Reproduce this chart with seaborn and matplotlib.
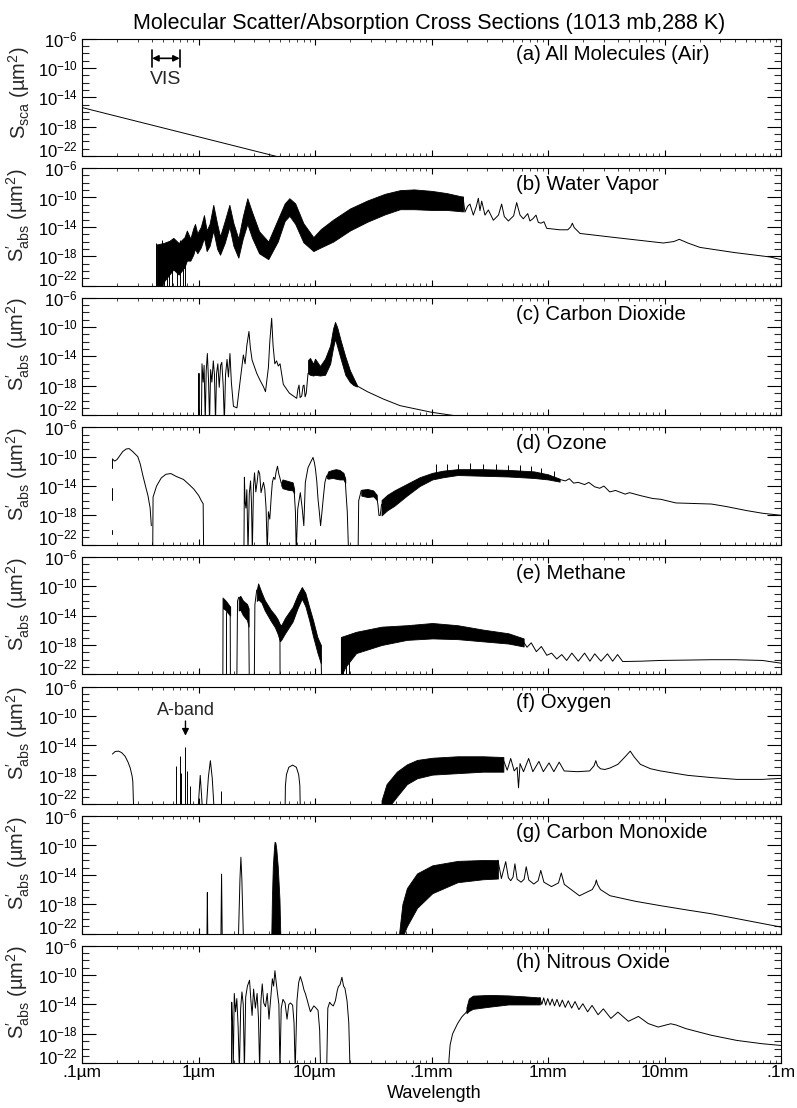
import numpy as np
import pandas as pd
import matplotlib
matplotlib.use("Agg")
import matplotlib.pyplot as plt
import matplotlib.ticker as mticker
import matplotlib.transforms as mtransforms
import seaborn as sns

N = None  # segment break

# ---------------- axes / labels ----------------
xtick_values = [1e-1, 1e0, 1e1, 1e2, 1e3, 1e4, 1e5]
xtick_labels = [".1µm", "1µm", "10µm", ".1mm", "1mm", "10mm", ".1m"]
ytick_exponents = [-22, -18, -14, -10, -6]
panel_names = ["(a) All Molecules (Air)", "(b) Water Vapor", "(c) Carbon Dioxide",
               "(d) Ozone", "(e) Methane", "(f) Oxygen", "(g) Carbon Monoxide",
               "(h) Nitrous Oxide"]
vis_range_um = [0.40, 0.69]
a_band_um = 0.773

# ---------------- data: (log10 wavelength[µm], log10 S[µm^2]) ----------------
# lines: (logwl, logS) ; bands: (logwl, logS_hi, logS_lo) ; spikes: (logwl, logS_base, logS_tip)
air_line = [(-1.0, -15.4), (0.63, -21.9), (1.0, -23.4)]

h2o_spikes = [(-0.365, -23, -16.2), (-0.345, -23, -16.9), (-0.316, -23, -15.8), (-0.296, -23, -16.8),
              (-0.273, -23, -16.0), (-0.250, -23, -16.6), (-0.230, -23, -15.6), (-0.187, -23, -16.4),
              (-0.159, -23, -15.8), (-0.136, -23, -16.2), (-0.116, -23, -15.3)]
h2o_band = [(-0.36, -16.4, -23), (-0.30, -16.2, -21.5), (-0.25, -15.9, -20.5), (-0.216, -15.5, -19.8),
            (-0.17, -16.2, -20.5), (-0.12, -15.4, -19.5), (-0.10, -14.5, -18.6), (-0.07, -15.6, -18.6),
            (-0.045, -14.2, -17.8), (-0.030, -13.6, -17.0), (-0.01, -14.9, -17.6), (0.02, -14.0, -16.8),
            (0.047, -12.4, -15.5), (0.07, -14.5, -17.3), (0.095, -13.6, -16.6), (0.127, -11.0, -14.5),
            (0.16, -13.6, -17.0), (0.185, -15.3, -17.8), (0.225, -13.2, -16.2), (0.265, -11.0, -14.0),
            (0.30, -13.5, -16.6), (0.342, -15.6, -18.2), (0.38, -12.6, -15.6), (0.419, -10.1, -13.6),
            (0.46, -12.0, -15.5), (0.52, -14.6, -17.6), (0.599, -16.0, -18.4), (0.68, -13.0, -16.0),
            (0.74, -10.8, -13.2), (0.780, -10.1, -12.5), (0.83, -10.8, -13.6), (0.90, -13.5, -16.1),
            (0.986, -15.4, -17.3), (1.05, -14.3, -16.8), (1.157, -13.0, -16.0), (1.30, -11.5, -14.5),
            (1.45, -10.4, -13.3), (1.60, -9.5, -12.3), (1.73, -9.0, -11.6), (1.85, -8.9, -11.6),
            (2.00, -9.1, -11.7), (2.13, -9.4, -11.7), (2.27, -9.9, -11.9)]
h2o_line = [(2.27, -9.9), (2.287, -12.0), (2.31, -11.2), (2.33, -10.9), (2.359, -12.4), (2.385, -11.2),
            (2.402, -10.1), (2.416, -11.8), (2.431, -10.5), (2.459, -12.4), (2.488, -11.7), (2.531, -13.1),
            (2.575, -12.4), (2.602, -10.9), (2.625, -12.6), (2.660, -13.2), (2.705, -12.5), (2.731, -10.7),
            (2.76, -12.4), (2.788, -12.9), (2.826, -12.2), (2.845, -13.2), (2.870, -12.9), (2.897, -12.4),
            (2.917, -13.4), (2.940, -13.5), (2.965, -13.3), (2.989, -14.2), (3.10, -14.4), (3.17, -14.4),
            (3.195, -14.0), (3.209, -13.5), (3.225, -14.1), (3.275, -14.9), (3.6, -15.5), (3.99, -16.2),
            (4.08, -16.0), (4.127, -15.7), (4.2, -16.2), (4.305, -16.8), (4.6, -17.5), (4.906, -18.1),
            (5.01, -18.5)]

co2_line = [(0.000, -23), (0.004, -16.3), (0.008, -23), N,
            (0.025, -23), (0.030, -15.0), (0.040, -17.5), (0.048, -15.2), (0.058, -23), (0.066, -16.0),
            (0.076, -13.6), (0.086, -17.2), (0.095, -23), (0.104, -15.8), (0.115, -17.5), (0.127, -14.6),
            (0.137, -16.5), (0.146, -23), (0.155, -16.3), (0.166, -15.0), (0.178, -18.2), (0.190, -15.2),
            (0.200, -14.8), (0.212, -18.0), (0.222, -23), (0.232, -16.5), (0.245, -14.4), (0.257, -16.8),
            (0.270, -13.6), (0.282, -17.5), (0.300, -20.8), (0.33, -21.0), (0.36, -17.0), (0.385, -13.8),
            (0.40, -15.0), (0.415, -12.5), (0.433, -10.6), (0.445, -12.8), (0.46, -14.5), (0.50, -16.3),
            (0.53, -17.3), (0.557, -18.1), (0.575, -18.8), (0.600, -15.5), (0.612, -12.0), (0.628, -8.8),
            (0.640, -12.5), (0.655, -15.0), (0.670, -14.6), (0.685, -15.3), (0.700, -15.0), (0.728, -17.8),
            (0.78, -19.0), (0.843, -19.7), (0.853, -18.5), (0.863, -17.9), (0.872, -19.6), (0.886, -19.4),
            (0.898, -18.0), (0.906, -17.9), (0.915, -19.5), (0.925, -19.0), (0.940, -16.3), N,
            (1.36, -18.0), (1.45, -18.8), (1.587, -19.8), (1.73, -20.7), (2.0, -21.6), (2.3, -22.3)]
co2_band = [(0.94, -14.5, -16.3), (0.957, -14.2, -16.5), (0.985, -15.0, -16.6), (1.00, -14.3, -16.5),
            (1.043, -15.3, -16.6), (1.086, -14.3, -16.5), (1.13, -12.5, -15.0), (1.155, -10.2, -12.8),
            (1.172, -9.3, -11.6), (1.19, -10.0, -12.6), (1.22, -11.8, -14.3), (1.26, -14.0, -16.5),
            (1.30, -15.9, -17.5), (1.33, -16.9, -17.9), (1.36, -17.9, -18.1)]

o3_line = [(-0.739, -10.3), (-0.739, -11.5), N, (-0.739, -14.3), (-0.739, -15.9), N,
           (-0.739, -20.0), (-0.739, -20.5), N,
           (-0.739, -10.3), (-0.72, -10.6), (-0.70, -10.4), (-0.65, -9.3), (-0.62, -8.95), (-0.595, -8.9),
           (-0.565, -9.3), (-0.521, -10.0), (-0.50, -11.0), (-0.477, -12.6), (-0.455, -14.0),
           (-0.434, -15.3), (-0.415, -17.0), (-0.405, -19.4), N,
           (-0.393, -23), (-0.390, -15.5), (-0.36, -14.0), (-0.32, -12.9), (-0.28, -12.4), (-0.237, -12.3),
           (-0.19, -12.7), (-0.129, -13.1), (-0.08, -13.8), (-0.041, -14.4), (0.002, -15.3),
           (0.024, -16.0), (0.040, -16.4), (0.044, -23), N,
           (0.390, -23), (0.394, -12.8), (0.400, -16.2), (0.407, -17.0), (0.415, -14.5), (0.425, -23),
           (0.436, -15.0), (0.447, -13.3), (0.455, -16.5), (0.462, -23), (0.472, -14.0), (0.481, -12.2),
           (0.492, -14.8), (0.503, -13.5), (0.514, -11.9), (0.525, -12.3), (0.537, -14.9), (0.547, -14.2),
           (0.558, -13.5), (0.569, -14.4), (0.580, -17.0), (0.590, -23), (0.600, -17.5), (0.612, -18.5),
           (0.624, -15.5), (0.634, -13.5), (0.645, -12.8), (0.656, -13.1), (0.667, -12.0), (0.678, -11.3),
           (0.690, -12.4), (0.699, -12.9), (0.710, -13.6), N,
           (0.821, -14.6), (0.832, -17.5), (0.839, -23), (0.852, -17.1), (0.874, -14.9), (0.890, -17.0),
           (0.904, -19.4), (0.917, -13.5), (0.940, -11.5), (0.961, -10.8), (0.983, -10.1), (0.995, -10.8),
           (1.004, -11.7), (1.015, -13.3), (1.026, -15.8), (1.037, -17.5), (1.048, -19.4), (1.060, -17.5),
           (1.070, -15.8), (1.085, -13.5), (1.100, -12.6), N,
           (1.26, -13.2), (1.266, -14.9), (1.277, -17.5), (1.288, -23), N,
           (1.370, -23), (1.375, -16.0), (1.397, -14.6), N,
           (1.530, -15.5), (1.540, -16.5), (1.549, -18.0), (1.560, -18.0), (1.571, -16.5), N,
           (3.10, -13.1), (3.15, -13.3), (3.183, -13.0), (3.22, -13.6), (3.26, -13.5), (3.314, -13.8),
           (3.35, -13.5), (3.40, -14.1), (3.444, -14.3), (3.48, -14.0), (3.53, -14.8), (3.58, -14.6),
           (3.662, -15.1), (3.70, -14.9), (3.793, -15.3), (3.90, -15.7), (3.967, -15.8), (4.098, -16.3),
           (4.30, -16.4), (4.403, -16.45), (4.534, -16.8), (4.708, -17.35), (4.839, -17.7), (5.01, -18.0)]
o3_band = [(0.710, -13.5, -13.9), (0.721, -13.1, -14.3), (0.765, -13.3, -14.5), (0.808, -13.5, -14.6),
           (0.821, -14.4, -15.0), N,
           (1.100, -12.6, -12.9), (1.113, -12.0, -13.0), (1.15, -11.8, -12.9), (1.179, -11.7, -13.0),
           (1.21, -11.8, -13.1), (1.244, -12.2, -13.1), (1.26, -13.0, -13.6), N,
           (1.397, -14.5, -15.3), (1.45, -14.4, -15.5), (1.50, -14.6, -15.4), (1.530, -15.2, -15.9), N,
           (1.571, -15.9, -18.0), (1.62, -15.2, -17.3), (1.68, -14.6, -16.7), (1.789, -13.7, -15.3),
           (1.898, -12.8, -14.0), (2.007, -12.2, -13.1), (2.10, -11.9, -12.8), (2.224, -11.7, -12.5),
           (2.442, -11.7, -12.6), (2.660, -11.8, -12.7), (2.878, -12.0, -12.9), (3.0, -12.4, -13.1),
           (3.10, -13.0, -13.4)]
o3_spikes = [(2.041, -12.3, -11.05), (2.129, -12.0, -11.0), (2.224, -12.0, -11.0), (2.333, -12.0, -10.9),
             (2.442, -12.0, -11.05), (2.551, -12.0, -11.0), (2.660, -12.0, -11.1), (2.756, -12.2, -11.2),
             (2.856, -12.3, -11.3), (2.943, -12.4, -11.5), (3.052, -12.8, -12.0)]

ch4_line = [(0.209, -23), (0.211, -11.6), N, (0.272, -12.8), (0.274, -23), N, (0.240, -23), (0.240, -13.5), N,
            (0.329, -23), (0.335, -12.0), (0.345, -11.5), N, (0.430, -13.0), (0.436, -23), N,
            (0.479, -23), (0.484, -12.5), (0.50, -10.5), N, (0.699, -15.2), (0.700, -23), N,
            (1.05, -18.0), (1.057, -23), N,
            (2.791, -17.6), (2.82, -18.3), (2.856, -17.7), (2.90, -18.9), (2.943, -18.2), (2.99, -19.4),
            (3.031, -19.1), (3.075, -19.9), (3.118, -19.3), (3.16, -20.1), (3.205, -19.1), (3.26, -20.2),
            (3.314, -19.1), (3.36, -20.2), (3.401, -19.2), (3.455, -20.2), (3.510, -19.2), (3.555, -20.2),
            (3.597, -19.3), (3.641, -20.25), (3.8, -20.2), (3.967, -20.1), (4.2, -20.05), (4.403, -20.0),
            (4.6, -20.0), (4.839, -20.1), (5.013, -20.5)]
ch4_band = [(0.211, -11.6, -13.0), (0.23, -11.9, -13.2), (0.25, -12.3, -13.6), (0.272, -12.8, -14.0), N,
            (0.345, -11.5, -13.3), (0.359, -11.3, -13.2), (0.38, -11.9, -13.9), (0.40, -12.2, -14.3),
            (0.416, -12.4, -14.6), (0.430, -13.0, -15.5), N,
            (0.50, -10.5, -12.0), (0.512, -9.6, -11.8), (0.540, -10.8, -12.2), (0.569, -11.9, -13.3),
            (0.62, -13.2, -14.7), (0.656, -13.9, -15.6), (0.68, -14.5, -16.5), (0.699, -15.2, -17.5),
            (0.71, -15.3, -17.3), (0.743, -14.3, -16.4), (0.808, -12.8, -14.8), (0.85, -11.2, -13.0),
            (0.887, -10.1, -11.7), (0.917, -10.9, -12.7), (0.95, -12.8, -14.6), (0.983, -14.6, -16.8),
            (1.02, -16.9, -19.0), (1.05, -18.0, -20.5), N,
            (1.222, -16.9, -22.3), (1.26, -16.7, -21.0), (1.353, -16.2, -19.1), (1.571, -15.5, -18.0),
            (1.789, -15.3, -17.3), (2.007, -15.0, -17.1), (2.224, -15.3, -17.2), (2.442, -15.9, -17.5),
            (2.660, -16.4, -17.8), (2.791, -17.1, -18.2)]
ch4_spikes = [(1.222, -23, -17.0), (1.240, -23, -16.9), (1.265, -23, -17.2), (1.290, -23, -16.8)]

o2_line = [(-0.739, -15.2), (-0.715, -14.85), (-0.686, -14.8), (-0.66, -15.0), (-0.630, -15.5),
           (-0.605, -16.3), (-0.586, -17.1), (-0.570, -18.2), (-0.564, -18.9), (-0.556, -23), N,
           (-0.005, -23), (0.015, -18.1), (0.035, -23), N,
           (0.065, -23), (0.085, -18.3), (0.102, -16.1), (0.118, -18.5), (0.135, -23), N,
           (0.743, -23), (0.746, -19.5), (0.755, -18.0), (0.775, -17.0), (0.808, -16.7), (0.840, -17.0),
           (0.860, -18.0), (0.870, -19.5), (0.874, -23), N,
           (2.617, -16.0), (2.65, -17.4), (2.68, -15.8), (2.71, -17.5), (2.735, -17.0), (2.747, -19.8),
           (2.76, -16.5), (2.79, -17.6), (2.834, -15.8), (2.87, -17.6), (2.922, -16.2), (2.96, -17.6),
           (3.009, -16.4), (3.05, -17.6), (3.096, -16.3), (3.139, -17.5), (3.25, -17.6), (3.357, -17.5),
           (3.395, -16.8), (3.410, -16.1), (3.425, -16.8), (3.45, -17.2), (3.488, -17.3), (3.532, -17.1),
           (3.60, -16.6), (3.66, -15.6), (3.706, -14.8), (3.74, -15.6), (3.793, -16.6), (3.88, -17.2),
           (3.967, -17.5), (4.2, -18.1), (4.403, -18.4), (4.621, -18.65), (4.839, -18.65), (5.013, -18.5)]
o2_band = [(1.571, -21.5, -23), (1.614, -19.3, -22.8), (1.702, -17.6, -21.0), (1.789, -16.6, -19.3),
           (1.876, -16.0, -18.5), (2.007, -15.7, -18.0), (2.224, -15.5, -17.8), (2.442, -15.5, -17.6),
           (2.617, -15.6, -17.6)]
o2_spikes = [(-0.194, -23, -16.8), (-0.163, -23, -15.5), (-0.150, -23, -17.8), (-0.115, -23, -14.2),
             (-0.100, -23, -17.5), (-0.075, -23, -19.5), (0.190, -23, -20.2)]

co_line = [(0.072, -23), (0.076, -16.4), (0.080, -23), N,
           (0.192, -23), (0.198, -13.9), (0.204, -23), N,
           (0.342, -23), (0.356, -14.5), (0.364, -11.6), (0.372, -14.5), (0.386, -23), N,
           (2.57, -12.0), (2.60, -14.5), (2.637, -12.2), (2.66, -14.4), (2.68, -14.8), (2.70, -14.3),
           (2.716, -12.5), (2.735, -14.6), (2.769, -15.0), (2.795, -14.6), (2.813, -12.9), (2.835, -14.7),
           (2.878, -15.25), (2.915, -14.8), (2.938, -13.4), (2.965, -15.0), (3.03, -15.6), (3.09, -15.1),
           (3.114, -13.75), (3.14, -15.3), (3.27, -16.85), (3.38, -16.0), (3.405, -15.3), (3.415, -14.7),
           (3.425, -15.3), (3.45, -16.0), (3.532, -16.84), (3.75, -17.6), (3.967, -18.2), (4.2, -18.8),
           (4.403, -19.3), (4.7, -20.2), (5.013, -21.15)]
co_band = [(0.625, -22.0, -23), (0.630, -17.3, -23), (0.638, -12.8, -23), (0.648, -10.3, -23),
           (0.653, -9.5, -23), (0.660, -9.6, -23), (0.668, -10.5, -23), (0.680, -12.8, -23),
           (0.695, -17.3, -23), (0.702, -22.0, -23), N,
           (1.723, -21.8, -23), (1.75, -18.0, -22.5), (1.789, -15.8, -21.0), (1.876, -13.8, -18.5),
           (2.007, -12.7, -16.5), (2.224, -12.1, -15.0), (2.442, -11.98, -14.6), (2.57, -12.0, -14.5)]

n2o_line = [(0.283, -23), (0.285, -13.7), (0.292, -16.5), (0.298, -23), (0.307, -12.5), (0.318, -15.0),
            (0.329, -13.2), (0.340, -17.0), (0.351, -23), (0.362, -14.5), (0.373, -12.3), (0.384, -14.0),
            (0.394, -23), (0.405, -13.0), (0.420, -11.5), (0.438, -10.7), (0.450, -13.5), (0.460, -15.5),
            (0.473, -11.9), (0.488, -14.5), (0.503, -12.5), (0.515, -16.0), (0.525, -23), (0.536, -13.5),
            (0.547, -11.2), (0.560, -13.8), (0.575, -14.3), (0.590, -12.5), (0.605, -16.0), (0.618, -13.5),
            (0.634, -10.5), (0.645, -11.5), (0.656, -9.4), (0.667, -11.0), (0.678, -12.5), (0.690, -14.0),
            (0.699, -23), (0.710, -14.5), (0.725, -13.3), (0.743, -13.8), (0.760, -16.0), (0.775, -14.0),
            (0.790, -13.8), (0.808, -14.1), (0.820, -16.5), (0.830, -23), (0.845, -13.5), (0.860, -11.0),
            (0.874, -10.2), (0.890, -11.0), (0.905, -12.0), (0.917, -12.5), (0.935, -13.5), (0.950, -14.4),
            (0.961, -15.0), (0.975, -14.6), (0.990, -14.2), (1.004, -14.4), (1.026, -14.8), (1.040, -17.5),
            (1.048, -23), N,
            (1.100, -23), (1.110, -14.5), (1.126, -13.7), (1.140, -14.0), (1.157, -14.2), (1.175, -13.5),
            (1.190, -12.2), (1.200, -11.6), (1.215, -11.3), (1.231, -10.3), (1.245, -11.5), (1.257, -11.8),
            (1.275, -13.5), (1.290, -16.5), (1.301, -23), N,
            (2.148, -23), (2.150, -21.5), (2.160, -19.5), (2.181, -18.0), (2.224, -16.6), (2.26, -15.7),
            (2.29, -15.2), (2.31, -14.8), N,
            (2.93, -13.05), (2.947, -14.0), (2.963, -13.1), (2.98, -14.1), (2.998, -13.2), (3.017, -14.1),
            (3.036, -13.25), (3.056, -14.2), (3.077, -13.3), (3.10, -14.3), (3.123, -13.4), (3.148, -14.4),
            (3.174, -13.5), (3.203, -14.5), (3.232, -13.6), (3.265, -14.7), (3.299, -13.9), (3.34, -15.0),
            (3.378, -14.13), (3.43, -15.4), (3.475, -14.6), (3.54, -15.9), (3.600, -15.04), (3.69, -16.3),
            (3.776, -15.63), (3.86, -16.6), (3.946, -17.08), (4.00, -16.85), (4.054, -16.63), (4.10, -16.8),
            (4.185, -17.3), (4.403, -18.2), (4.621, -18.9), (4.839, -19.35), (5.013, -19.6)]
n2o_band = [(2.30, -14.4, -15.2), (2.32, -13.2, -14.9), (2.355, -12.8, -14.6), (2.50, -12.7, -14.3),
            (2.660, -12.77, -14.0), (2.80, -12.9, -14.0), (2.93, -13.05, -14.0)]

panels = [
    dict(line=air_line, band=[], spikes=[]),
    dict(line=h2o_line, band=h2o_band, spikes=h2o_spikes),
    dict(line=co2_line, band=co2_band, spikes=[]),
    dict(line=o3_line, band=o3_band, spikes=o3_spikes),
    dict(line=ch4_line, band=ch4_band, spikes=ch4_spikes),
    dict(line=o2_line, band=o2_band, spikes=o2_spikes),
    dict(line=co_line, band=co_band, spikes=[]),
    dict(line=n2o_line, band=n2o_band, spikes=[]),
]


def split_segments(rows):
    segs, cur = [], []
    for r in rows:
        if r is None:
            if cur:
                segs.append(cur)
            cur = []
        else:
            cur.append(r)
    if cur:
        segs.append(cur)
    return segs


# ---------------- style ----------------
sns.set_theme(style="ticks")
plt.rcParams["font.family"] = ["Liberation Sans", "DejaVu Sans"]
plt.rcParams["mathtext.fontset"] = "custom"
plt.rcParams["mathtext.rm"] = "Liberation Sans"
plt.rcParams["mathtext.it"] = "Liberation Sans:italic"
plt.rcParams["mathtext.bf"] = "Liberation Sans:bold"
plt.rcParams["axes.linewidth"] = 0.8

W, H = 797, 1108
fig = plt.figure(figsize=(W / 100, H / 100), dpi=100)
fig.patch.set_facecolor("white")

left_px, right_px = 82, 781
top0, period, ph = 38.5, 129.6, 117.5
lift = mtransforms.ScaledTranslation(0, 7.5 / 100, fig.dpi_scale_trans)

for i, p in enumerate(panels):
    top = top0 + i * period
    ax = fig.add_axes([left_px / W, 1 - (top + ph) / H, (right_px - left_px) / W, ph / H])
    ax.set_facecolor("white")

    # bands (dense line forests)
    for seg in split_segments(p["band"]):
        arr = np.array(seg, dtype=float)
        ax.fill_between(10 ** arr[:, 0], 10 ** arr[:, 2], 10 ** arr[:, 1],
                        color="black", lw=0.6, zorder=2)

    # lines
    rows = []
    for k, seg in enumerate(split_segments(p["line"])):
        for (lx, ly) in seg:
            rows.append((10 ** lx, 10 ** ly, k))
    df = pd.DataFrame(rows, columns=["wl", "S", "seg"])
    sns.lineplot(data=df, x="wl", y="S", units="seg", estimator=None, sort=False,
                 color="black", lw=0.7, ax=ax, legend=False, zorder=3)

    # isolated lines
    if p["spikes"]:
        sp = np.array(p["spikes"], dtype=float)
        ax.vlines(10 ** sp[:, 0], 10 ** sp[:, 1], 10 ** sp[:, 2], color="black", lw=0.7, zorder=3)

    ax.set_xscale("log")
    ax.set_yscale("log")
    ax.set_xlim(1e-1, 1e5)
    ax.set_ylim(1e-22, 1e-6)

    ax.set_yticks([10.0 ** e for e in ytick_exponents])
    ax.set_yticklabels([r"$10^{%d}$" % e for e in ytick_exponents])
    ax.set_yticks([10.0 ** e for e in range(-22, -5) if e not in ytick_exponents], minor=True)
    ax.yaxis.set_minor_formatter(mticker.NullFormatter())
    ax.set_xticks(xtick_values)
    ax.xaxis.set_minor_locator(mticker.LogLocator(base=10, subs=np.arange(2, 10), numticks=100))
    ax.xaxis.set_minor_formatter(mticker.NullFormatter())
    if i == len(panels) - 1:
        ax.set_xticklabels(xtick_labels)
    else:
        ax.set_xticklabels([])

    ax.tick_params(axis="y", which="major", direction="in", length=10, width=0.8,
                   left=True, right=True, labelsize=12, pad=3, colors="black")
    ax.tick_params(axis="y", which="minor", direction="in", length=5, width=0.8,
                   left=True, right=True)
    ax.tick_params(axis="x", which="major", direction="in", length=4, width=0.8,
                   top=True, bottom=True, labelsize=12.5, pad=1.5, colors="black")
    ax.tick_params(axis="x", which="minor", direction="in", length=2, width=0.6,
                   top=True, bottom=True)
    for s in ax.spines.values():
        s.set_color("black")
        s.set_linewidth(0.8)
    # lowest y label sits a little above the bottom tick, as in the original
    lab = ax.get_yticklabels()[0]
    lab.set_transform(lab.get_transform() + lift)

    ax.set_xlabel("")
    if i == 0:
        ax.set_ylabel(r"$\mathrm{S}_{\mathrm{sca}}$ (µm$^{2}$)", fontsize=14.5)
        ax.yaxis.set_label_coords(-0.071, 0.54)
    else:
        ax.set_ylabel(r"$\mathrm{S}^{\prime}_{\mathrm{abs}}$ (µm$^{2}$)", fontsize=14.5)
        ax.yaxis.set_label_coords(-0.071, 0.60)

    ax.text(0.621, 0.86, panel_names[i], transform=ax.transAxes, ha="left", va="center",
            fontsize=14.7, color="black")

    if i == 0:
        y_arrow = 10 ** -8.7
        ax.annotate("", xy=(vis_range_um[1], y_arrow), xytext=(vis_range_um[0], y_arrow),
                    arrowprops=dict(arrowstyle="<|-|>", color="black", lw=1.2,
                                    mutation_scale=9, shrinkA=0, shrinkB=0))
        for v in vis_range_um:
            ax.plot([v, v], [10 ** -7.5, 10 ** -9.85], color="black", lw=1.2)
        ax.text(np.sqrt(vis_range_um[0] * vis_range_um[1]), 10 ** -11.65, "VIS",
                ha="center", va="center", fontsize=14)
    if i == 5:
        ax.text(a_band_um, 10 ** -9.3, "A-band", ha="center", va="center", fontsize=13)
        ax.annotate("", xy=(a_band_um, 10 ** -12.7), xytext=(a_band_um, 10 ** -10.7),
                    arrowprops=dict(arrowstyle="-|>", color="black", lw=1.0,
                                    mutation_scale=10, shrinkA=0, shrinkB=0))

fig.text(429 / W, 1 - 28.5 / H, "Molecular Scatter/Absorption Cross Sections (1013 mb,288 K)",
         ha="center", va="baseline", fontsize=15.5, color="black")
fig.text(434 / W, 1 - 1093 / H, "Wavelength", ha="center", va="center", fontsize=13, color="black")

fig.savefig("out.png", dpi=100, facecolor="white")
